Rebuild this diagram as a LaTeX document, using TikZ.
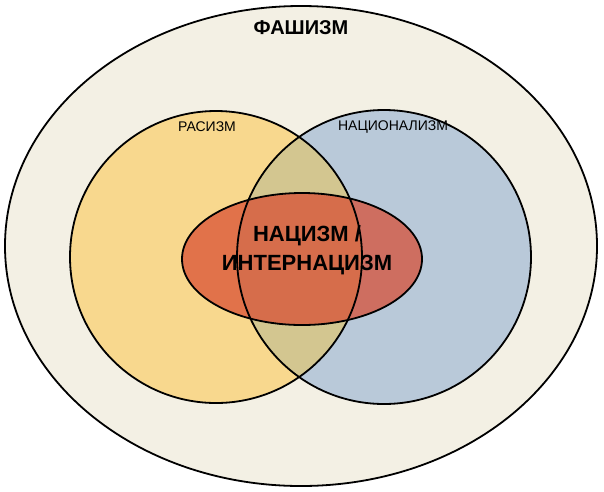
\documentclass[tikz,border=0pt]{standalone}
\usepackage{fontspec}
\setmainfont{Liberation Sans}
\usetikzlibrary{shapes.geometric}
\definecolor{outerc}{HTML}{F3F0E4}
\definecolor{yel}{HTML}{F8D88E}
\definecolor{blu}{HTML}{B9C9D9}
\definecolor{olv}{HTML}{D3C690}
\definecolor{redc}{HTML}{D8482E}
\begin{document}
\begin{tikzpicture}[x=1pt,y=-1pt,
  ring/.style={draw=black,line width=1.8pt}]
\useasboundingbox (0,0) rectangle (604,491);
\fill[white] (0,0) rectangle (604,491);
\node[ring,fill=outerc,ellipse,minimum width=592pt,minimum height=480pt,inner sep=0pt] (outer) at (301,246) {};
\path[fill=yel] (216,257) circle (146);
\path[fill=blu] (384,257) circle (147);
\begin{scope}
\clip (216,257) circle (146);
\fill[olv] (384,257) circle (147);
\end{scope}
\fill[redc,opacity=0.7] (302,259) ellipse (120 and 66);
\draw[line width=1.8pt] (302,259) ellipse (120 and 66);
\node[circle,ring,minimum size=292pt,inner sep=0pt] (rac) at (216,257) {};
\node[circle,ring,minimum size=294pt,inner sep=0pt] (nat) at (384,257) {};
\node[font=\bfseries\fontsize{20}{22}\selectfont] (fa) at (301,28) {ФАШИЗМ};
\node[font=\fontsize{14}{15}\selectfont] (ra) at (207,127) {РАСИЗМ};
\node[font=\fontsize{14}{15}\selectfont] (na) at (393,127) {НАЦИОНАЛИЗМ};
\node[font=\bfseries\fontsize{22}{29}\selectfont,align=center] (nz) at (307,250) {НАЦИЗМ /\\ИНТЕРНАЦИЗМ};
\end{tikzpicture}
\end{document}
